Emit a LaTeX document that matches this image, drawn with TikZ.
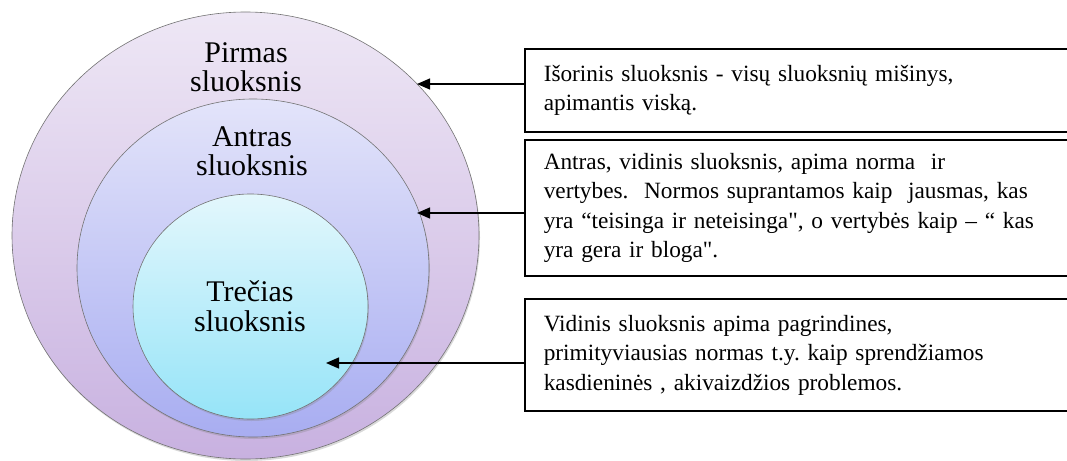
\documentclass[tikz,border=0pt]{standalone}
\usepackage{fontspec}
\setmainfont{Liberation Serif}[Ligatures=TeXOff]
\usetikzlibrary{shapes.geometric,arrows.meta,shadows}

\definecolor{outertop}{HTML}{EEE7F5}
\definecolor{outerbot}{HTML}{C8B1E0}
\definecolor{midtop}{HTML}{E3E4FA}
\definecolor{midbot}{HTML}{A8ADF1}
\definecolor{inntop}{HTML}{E3F7FC}
\definecolor{innbot}{HTML}{96E4F8}

\begin{document}
\frenchspacing
\begin{tikzpicture}[x=1pt, y=-1pt,
    layer/.style={ellipse, draw=black!55, line width=0.6pt, inner sep=0pt,
      drop shadow={shadow xshift=1pt, shadow yshift=-2pt, opacity=0.3}},
    tag/.style={align=center, inner sep=0pt, font=\fontsize{30}{29.5}\selectfont},
    note/.style={rectangle, draw, line width=1.5pt, anchor=west, text width=520pt,
      inner xsep=19pt, inner ysep=0pt, align=left,
      font=\fontsize{23.3}{29.5}\selectfont},
    >={Triangle[length=13pt,width=11pt]}]
    \clip (0,0) rectangle (1067,460);
    % layers
    \node[layer, top color=outertop, bottom color=outerbot,
      minimum width=467pt, minimum height=447pt] (L1) at (245.5,235.5) {};
    \node[layer, top color=midtop, bottom color=midbot,
      minimum width=352pt, minimum height=338pt] (L2) at (253,268) {};
    \node[layer, top color=inntop, bottom color=innbot,
      minimum width=235pt, minimum height=225pt] (L3) at (250.5,306.5) {};
    \node[tag] (P1) at (246,67) {Pirmas\\sluoksnis};
    \node[tag] (P2) at (252,151) {Antras\\sluoksnis};
    \node[tag] (P3) at (250,306) {Trečias\\sluoksnis};
    % notes
    \node[note, minimum height=83pt] (N1) at (524,90.5)
      {Išorinis sluoksnis - visų sluoksnių mišinys,\\apimantis viską.};
    \node[note, minimum height=136pt] (N2) at (524,208)
      {Antras, vidinis sluoksnis, apima norma~ ir\\vertybes.~ Normos suprantamos kaip~ jausmas, kas\\yra “teisinga ir neteisinga", o vertybės kaip – “ kas\\yra gera ir bloga".};
    \node[note, minimum height=112pt] (N3) at (524,355)
      {Vidinis sluoksnis apima pagrindines,\\primityviausias normas t.y. kaip sprendžiamos\\kasdieninės , akivaizdžios problemos.};
    \coordinate (t1) at (417,84);
    \coordinate (t2) at (417,213);
    \coordinate (t3) at (326,363);
    \draw[->, line width=1.3pt] (N1.west |- t1) -- (t1);
    \draw[->, line width=1.3pt] (N2.west |- t2) -- (t2);
    \draw[->, line width=1.3pt] (N3.west |- t3) -- (t3);
\end{tikzpicture}
\end{document}
